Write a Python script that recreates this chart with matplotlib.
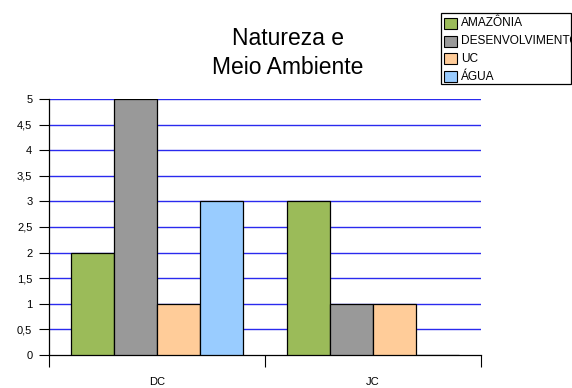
import matplotlib
matplotlib.use("Agg")
import matplotlib.pyplot as plt
from matplotlib.patches import Rectangle
import numpy as np

plt.rcParams['font.family'] = ['Liberation Sans', 'DejaVu Sans']

categories = ["DC", "JC"]
series_names = ["AMAZÔNIA", "DESENVOLVIMENTO", "UC", "ÁGUA"]
amazonia = [2, 3]
desenvolvimento = [5, 1]
uc = [1, 1]
agua = [3, 0]
series_values = [amazonia, desenvolvimento, uc, agua]
colors = ["#9BBB59", "#999999", "#FFCC99", "#99CCFF"]
y_ticks = [0, 0.5, 1, 1.5, 2, 2.5, 3, 3.5, 4, 4.5, 5]
y_tick_labels = ["0", "0,5", "1", "1,5", "2", "2,5", "3", "3,5", "4", "4,5", "5"]

W, H = 572, 388
fig = plt.figure(figsize=(W / 100, H / 100), dpi=100)
ax = fig.add_axes([49 / W, 33 / H, 432 / W, 256 / H])

x = np.arange(len(categories))
width = 0.2
for i, (vals, col) in enumerate(zip(series_values, colors)):
    offs = (i - 1.5) * width
    ax.bar(x + offs, vals, width, color=col, edgecolor="black",
           linewidth=0.9, zorder=3)

ax.set_xlim(-0.5, 1.5)
ax.set_ylim(0, 5)
ax.set_yticks(y_ticks)
ax.set_yticklabels(y_tick_labels, fontsize=8)
for y in y_ticks[1:]:
    ax.axhline(y, color="#2a2aee", linewidth=1.0, zorder=1)

ax.set_xticks([-0.5, 0.5, 1.5])
ax.set_xticklabels([])
ax.set_xticks(x, minor=True)
ax.set_xticklabels(categories, minor=True, fontsize=8)
ax.tick_params(axis="x", which="minor", length=0, pad=16)
ax.tick_params(axis="x", which="major", length=8.6, width=0.8, direction="out")
ax.tick_params(axis="y", length=7, width=0.8, direction="out", pad=5)

for side in ["top", "right"]:
    ax.spines[side].set_visible(False)
ax.spines["left"].set_linewidth(0.9)
ax.spines["bottom"].set_linewidth(0.9)

fig.text(288 / W, 1 - 53 / H, "Natureza e\nMeio Ambiente", ha="center",
         va="center", fontsize=16.5, linespacing=1.3)

# legend box, clipped at its right border
def fx(px):
    return px / W

def fy(py):
    return 1 - py / H

frame = Rectangle((fx(441), fy(84)), fx(571) - fx(441), fy(13) - fy(84),
                  transform=fig.transFigure, facecolor="white",
                  edgecolor="black", linewidth=0.9, zorder=5)
fig.add_artist(frame)
row_tops = [18, 36, 53, 71]
for name, col, top in zip(series_names, colors, row_tops):
    sw = Rectangle((fx(444), fy(top + 11)), fx(457) - fx(444), fy(top) - fy(top + 11),
                   transform=fig.transFigure, facecolor=col,
                   edgecolor="black", linewidth=0.8, zorder=6)
    fig.add_artist(sw)
    t = fig.text(fx(461), fy(top + 5.5), name, ha="left", va="center",
                 fontsize=8.6, zorder=6)
    t.set_clip_path(frame)

fig.savefig("out.png", dpi=100)
